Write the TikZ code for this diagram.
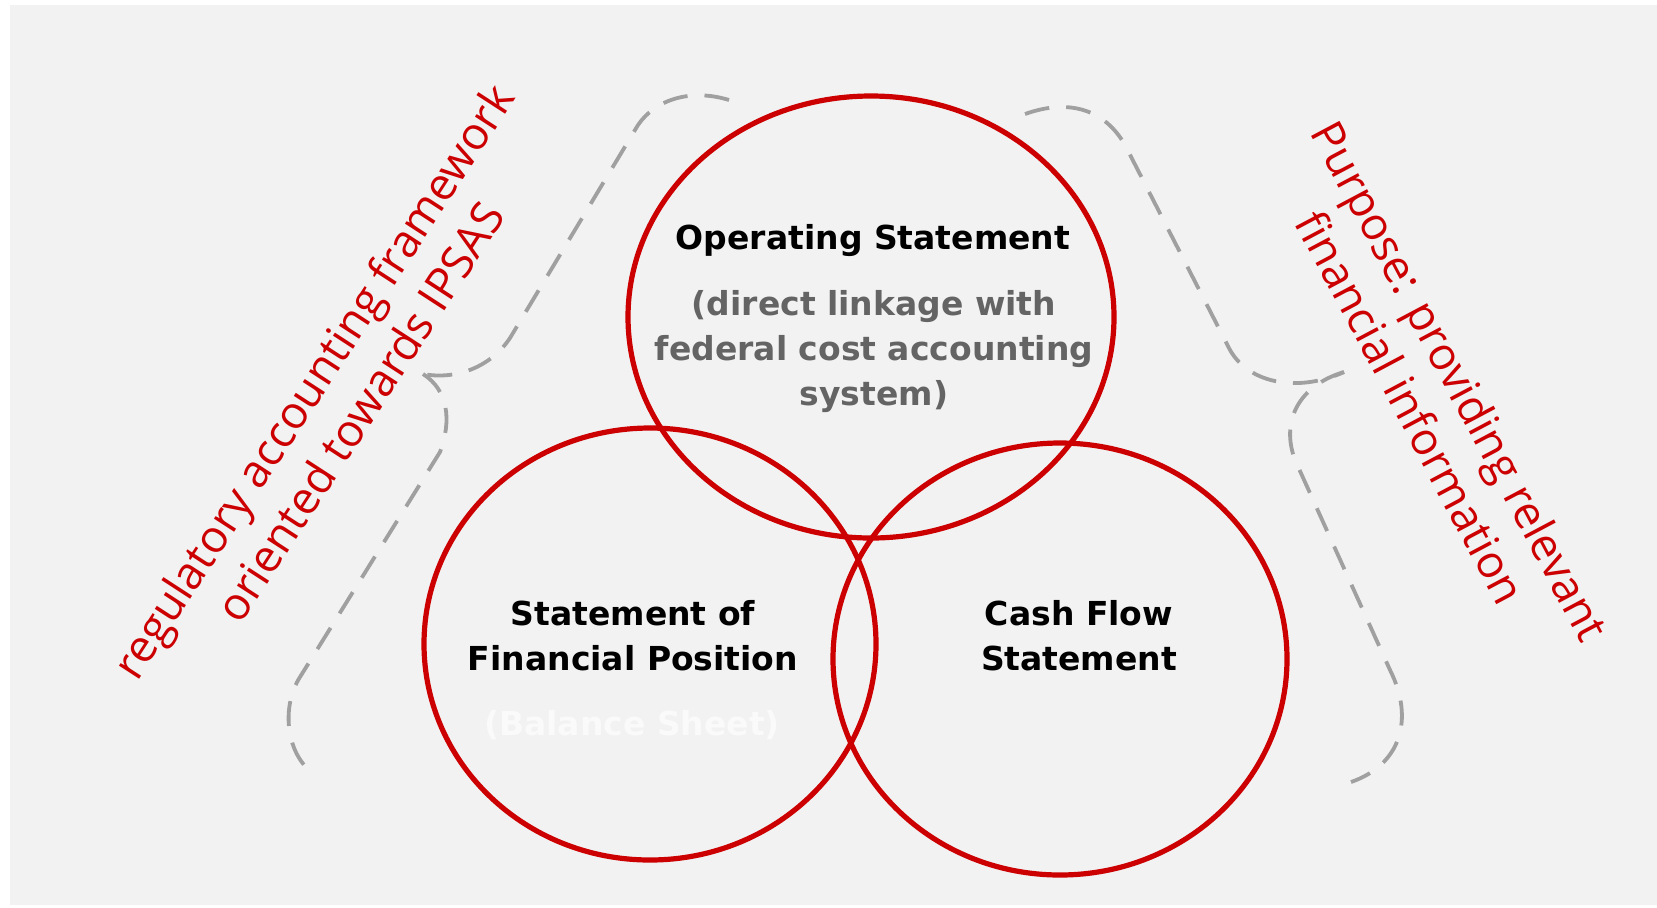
\documentclass[tikz,border=0pt]{standalone}
\usepackage{fontspec}
\setmainfont{DejaVu Sans}
\newfontfamily\notefont{Open Sans}
\usetikzlibrary{shapes.geometric,positioning}

\definecolor{bgGray}{RGB}{242,242,242}
\definecolor{vennRed}{RGB}{204,0,0}
\definecolor{braceGray}{RGB}{160,160,160}
\definecolor{subGray}{RGB}{100,100,100}
\definecolor{faintWhite}{RGB}{250,250,250}

\begin{document}
\begin{tikzpicture}[x=0.5pt,y=-0.5pt,
    statement/.style={shape=ellipse,draw=vennRed,line width=2.6pt,inner sep=0pt},
    title/.style={font=\bfseries\fontsize{16.5}{22.5}\selectfont,align=center,inner sep=0pt},
    subtitle/.style={title,text=subGray},
    note/.style={font=\notefont\fontsize{22.5}{28}\selectfont,text=vennRed,align=center,inner sep=0pt},
    bracket/.style={draw=braceGray,line width=1.9pt,dash pattern=on 12.5pt off 8.5pt},]
	% page and background
    \useasboundingbox (0,0) rectangle (1657,907);
    \fill[bgGray] (10,5) rectangle (1657,905);

	% the three statements
    \node (OS) [statement,minimum width=243pt,minimum height=221pt] at (871,317) {};
	\node (SFP) [statement,minimum width=226pt,minimum height=216pt] at (650,644) {};
	\node (CFS) [statement,minimum width=227pt,minimum height=216pt] at (1060,659) {};

	% texts in the circles
    \node (OStitle) [title] at (873,241) {Operating Statement};
    \node (OSnote) [subtitle] at (874,352) {(direct linkage with\\federal cost accounting\\system)};
    \node (SFPtitle) [title] at (633,636) {Statement of\\Financial Position};
    \node (SFPnote) [title,text=faintWhite] at (632,725) {(Balance Sheet)};
    \node (CFStitle) [title] at (1079,636) {Cash Flow\\Statement};

	% side remarks
    \node (frame) [note,rotate=57] at (336,396) {regulatory accounting framework\\oriented towards IPSAS};
    \node (purpose) [note,rotate=-62] at (1436,394) {Purpose: providing relevant\\financial information};

	% braces
    \draw[bracket] (729,100) .. controls (690,88) and (655,100) .. (638,125) -- (510,338)
        .. controls (490,368) and (455,380) .. (423,374);
    \draw[bracket] (423,374) .. controls (448,390) and (452,420) .. (440,452) -- (300,677)
        .. controls (282,705) and (285,750) .. (311,772);
    \draw[bracket] (1025,114) .. controls (1070,98) and (1105,110) .. (1125,145) -- (1230,350)
        .. controls (1250,385) and (1300,392) .. (1344,372);
    \draw[bracket] (1344,372) .. controls (1300,385) and (1280,420) .. (1295,460) -- (1390,670)
        .. controls (1415,720) and (1400,765) .. (1351,782);
\end{tikzpicture}
\end{document}
